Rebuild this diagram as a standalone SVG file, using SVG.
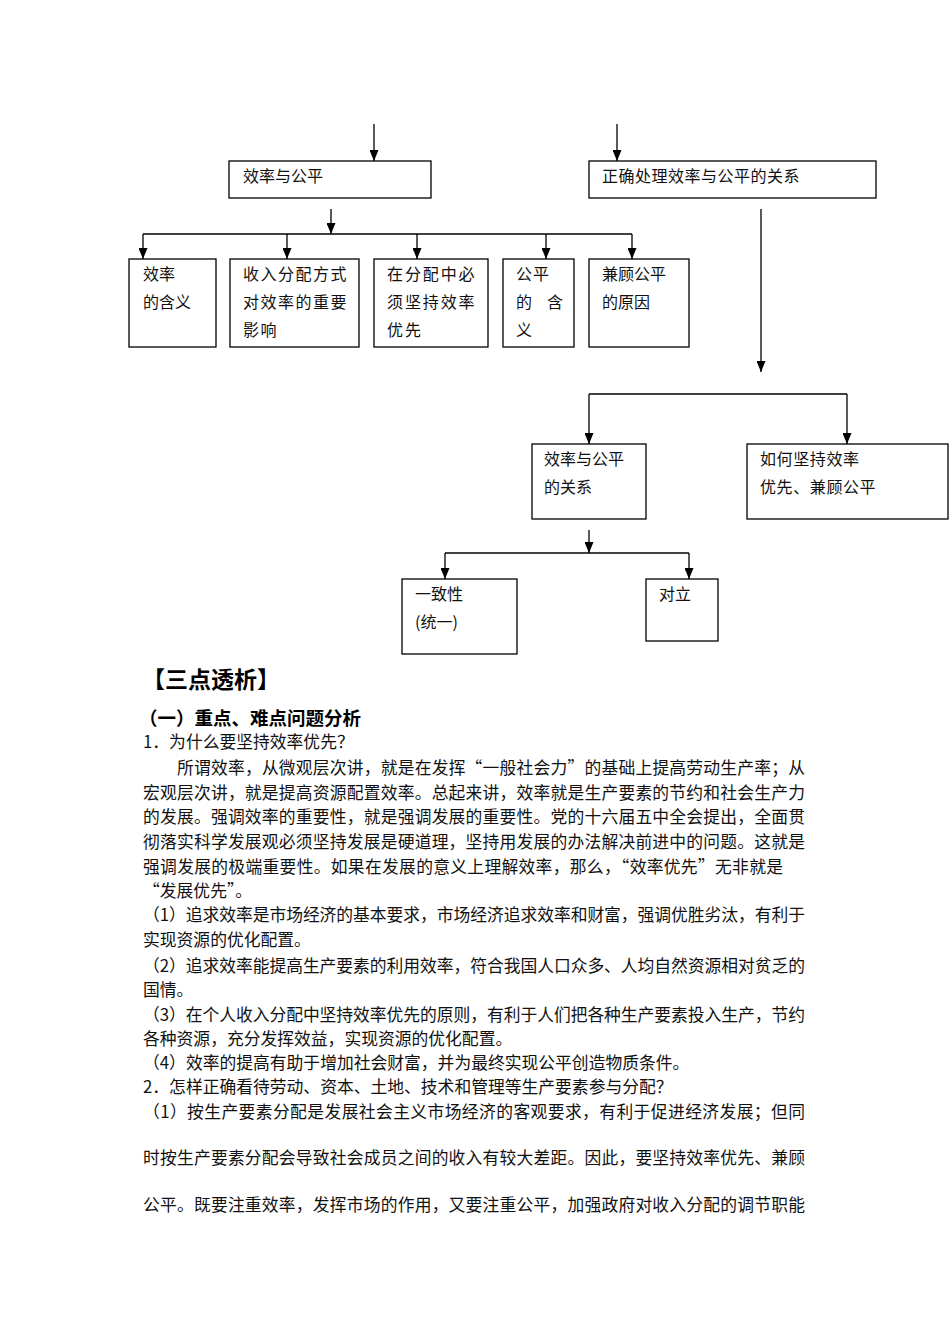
<svg xmlns="http://www.w3.org/2000/svg" width="950" height="1344" viewBox="0 0 950 1344">
<style>
  .box { fill: #fff; stroke: #000; stroke-width: 1.3; }
  .lbl { font-family: "Noto Sans CJK SC", "Liberation Sans", sans-serif; font-size: 16px; fill: #111; }
  .con { stroke: #000; stroke-width: 1.3; fill: none; }
  .arr { marker-end: url(#ah); }
  .body { font-family: "Noto Sans CJK SC", "Liberation Serif", serif; font-size: 16.8px; fill: #111; }
  .h1 { font-family: "Noto Sans CJK SC", "Liberation Sans", sans-serif; font-size: 23px; font-weight: bold; fill: #000; }
  .h2 { font-family: "Noto Sans CJK SC", "Liberation Sans", sans-serif; font-size: 18.5px; font-weight: bold; fill: #000; }
</style>
<defs>
  <marker id="ah" viewBox="0 0 11 9" refX="11" refY="4.5" markerWidth="11" markerHeight="9" markerUnits="userSpaceOnUse" orient="auto">
    <path d="M0,0 L11,4.5 L0,9 z" fill="#000"/>
  </marker>
</defs>
<rect width="950" height="1344" fill="#fff"/>

<g id="connectors">
  <line class="con arr" x1="374" y1="124" x2="374" y2="161"/>
  <line class="con arr" x1="617" y1="124" x2="617" y2="161"/>
  <line class="con arr" x1="331" y1="209" x2="331" y2="234"/>
  <line class="con" x1="143" y1="234" x2="632" y2="234"/>
  <line class="con arr" x1="143" y1="234" x2="143" y2="259"/>
  <line class="con arr" x1="287" y1="234" x2="287" y2="259"/>
  <line class="con arr" x1="417" y1="234" x2="417" y2="259"/>
  <line class="con arr" x1="546" y1="234" x2="546" y2="259"/>
  <line class="con arr" x1="632" y1="234" x2="632" y2="259"/>
  <line class="con arr" x1="761" y1="209" x2="761" y2="372"/>
  <line class="con" x1="589" y1="394" x2="847" y2="394"/>
  <line class="con arr" x1="589" y1="394" x2="589" y2="444"/>
  <line class="con arr" x1="847" y1="394" x2="847" y2="444"/>
  <line class="con arr" x1="589" y1="530" x2="589" y2="553"/>
  <line class="con" x1="445" y1="553" x2="689" y2="553"/>
  <line class="con arr" x1="445" y1="553" x2="445" y2="579"/>
  <line class="con arr" x1="689" y1="553" x2="689" y2="579"/>
</g>

<g id="n_xlgp">
  <rect class="box" x="229" y="161" width="202" height="37"/>
  <text class="lbl" x="243" y="182">效率与公平</text>
</g>
<g id="n_zqcl">
  <rect class="box" x="589" y="161" width="287" height="37"/>
  <text class="lbl" x="602" y="182" letter-spacing="0.5">正确处理效率与公平的关系</text>
</g>
<g id="n_xlhy">
  <rect class="box" x="129" y="259" width="87" height="88"/>
  <text class="lbl" x="143" y="280">效率</text>
  <text class="lbl" x="143" y="308">的含义</text>
</g>
<g id="n_srfp">
  <rect class="box" x="230" y="259" width="129" height="88"/>
  <text class="lbl" x="243" y="280" letter-spacing="1.5">收入分配方式</text>
  <text class="lbl" x="243" y="308" letter-spacing="1.5">对效率的重要</text>
  <text class="lbl" x="243" y="336" letter-spacing="1.5">影响</text>
</g>
<g id="n_fpzb">
  <rect class="box" x="374" y="259" width="114" height="88"/>
  <text class="lbl" x="387" y="280" letter-spacing="1.9">在分配中必</text>
  <text class="lbl" x="387" y="308" letter-spacing="1.9">须坚持效率</text>
  <text class="lbl" x="387" y="336" letter-spacing="1.9">优先</text>
</g>
<g id="n_gphy">
  <rect class="box" x="503" y="259" width="71" height="88"/>
  <text class="lbl" x="516" y="280" letter-spacing="1">公平</text>
  <text class="lbl" x="516" y="308">的</text>
  <text class="lbl" x="547" y="308">含</text>
  <text class="lbl" x="516" y="336">义</text>
</g>
<g id="n_jggp">
  <rect class="box" x="589" y="259" width="100" height="88"/>
  <text class="lbl" x="602" y="280">兼顾公平</text>
  <text class="lbl" x="602" y="308">的原因</text>
</g>
<g id="n_gx">
  <rect class="box" x="532" y="444" width="114" height="75"/>
  <text class="lbl" x="544" y="465">效率与公平</text>
  <text class="lbl" x="544" y="493">的关系</text>
</g>
<g id="n_rhjc">
  <rect class="box" x="747" y="444" width="201" height="75"/>
  <text class="lbl" x="760" y="465" letter-spacing="0.6">如何坚持效率</text>
  <text class="lbl" x="760" y="493" letter-spacing="0.6">优先、兼顾公平</text>
</g>
<g id="n_yzx">
  <rect class="box" x="402" y="579" width="115" height="75"/>
  <text class="lbl" x="415" y="600">一致性</text>
  <text class="lbl" x="415" y="628">(统一)</text>
</g>
<g id="n_dl">
  <rect class="box" x="646" y="579" width="72" height="62"/>
  <text class="lbl" x="659" y="600">对立</text>
</g>

<g id="text">
  <text class="h1" x="142" y="688">【三点透析】</text>
  <text class="h2" x="139" y="725">（一）重点、难点问题分析</text>
  <text class="body" x="143" y="748">1．为什么要坚持效率优先？</text>
  <text class="body" x="177" y="774" textLength="628" lengthAdjust="spacing">所谓效率，从微观层次讲，就是在发挥“一般社会力”的基础上提高劳动生产率；从</text>
  <text class="body" x="143" y="799" textLength="662" lengthAdjust="spacing">宏观层次讲，就是提高资源配置效率。总起来讲，效率就是生产要素的节约和社会生产力</text>
  <text class="body" x="143" y="823" textLength="662" lengthAdjust="spacing">的发展。强调效率的重要性，就是强调发展的重要性。党的十六届五中全会提出，全面贯</text>
  <text class="body" x="143" y="848" textLength="662" lengthAdjust="spacing">彻落实科学发展观必须坚持发展是硬道理，坚持用发展的办法解决前进中的问题。这就是</text>
  <text class="body" x="143" y="873" textLength="640" lengthAdjust="spacing">强调发展的极端重要性。如果在发展的意义上理解效率，那么，“效率优先”无非就是</text>
  <text class="body" x="143" y="897">“发展优先”。</text>
  <text class="body" x="143" y="921" textLength="662" lengthAdjust="spacing">（1）追求效率是市场经济的基本要求，市场经济追求效率和财富，强调优胜劣汰，有利于</text>
  <text class="body" x="143" y="946">实现资源的优化配置。</text>
  <text class="body" x="143" y="972" textLength="662" lengthAdjust="spacing">（2）追求效率能提高生产要素的利用效率，符合我国人口众多、人均自然资源相对贫乏的</text>
  <text class="body" x="143" y="996">国情。</text>
  <text class="body" x="143" y="1021" textLength="662" lengthAdjust="spacing">（3）在个人收入分配中坚持效率优先的原则，有利于人们把各种生产要素投入生产，节约</text>
  <text class="body" x="143" y="1045">各种资源，充分发挥效益，实现资源的优化配置。</text>
  <text class="body" x="143" y="1069">（4）效率的提高有助于增加社会财富，并为最终实现公平创造物质条件。</text>
  <text class="body" x="143" y="1093">2．怎样正确看待劳动、资本、土地、技术和管理等生产要素参与分配？</text>
  <text class="body" x="143" y="1118" textLength="662" lengthAdjust="spacing">（1）按生产要素分配是发展社会主义市场经济的客观要求，有利于促进经济发展；但同</text>
  <text class="body" x="143" y="1164" textLength="662" lengthAdjust="spacing">时按生产要素分配会导致社会成员之间的收入有较大差距。因此，要坚持效率优先、兼顾</text>
  <text class="body" x="143" y="1211" textLength="662" lengthAdjust="spacing">公平。既要注重效率，发挥市场的作用，又要注重公平，加强政府对收入分配的调节职能</text>
</g>
</svg>
